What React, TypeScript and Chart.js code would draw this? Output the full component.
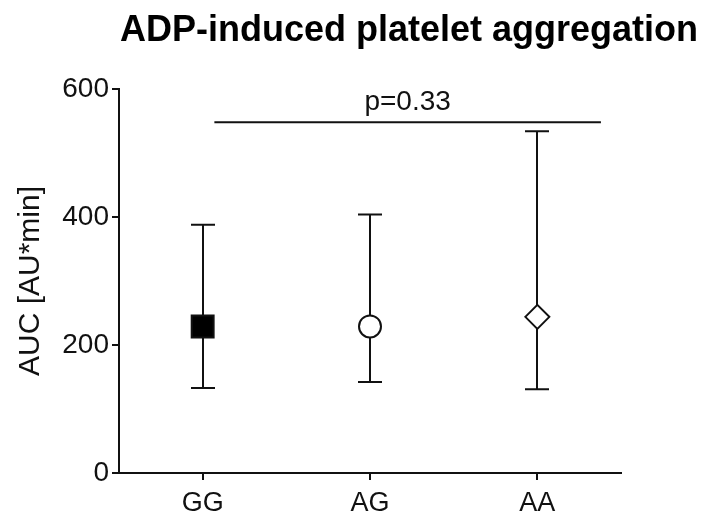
import { useEffect, useRef } from 'react';
import { Chart, registerables } from 'chart.js';

Chart.register(...registerables);

// ---- data ----
const categories = ['GG', 'AG', 'AA'];
const means = [229, 229, 244];
const upperErr = [388, 404, 534];
const lowerErr = [133, 142, 131];
const yTicks = [0, 200, 400, 600];
const pLabel = 'p=0.33';
const pBracketValue = 548; // y value of the comparison line
const pBracketFrom = 0.07; // category index units
const pBracketTo = 2.38;
const chartTitle = 'ADP-induced platelet aggregation';
const yTitle = 'AUC [AU*min]';

const FONT = '"Liberation Sans", Arial, Helvetica, sans-serif';
const INK = '#111111';

const errorBarPlugin = {
  id: 'errorBars',
  beforeDatasetsDraw(chart: any) {
    const { ctx, scales } = chart;
    const xs = scales.x;
    const ys = scales.y;
    ctx.save();
    ctx.strokeStyle = INK;
    ctx.lineWidth = 2;
    const cap = 12;
    for (let i = 0; i < categories.length; i++) {
      const x = Math.round(xs.getPixelForValue(i));
      const yt = ys.getPixelForValue(upperErr[i]);
      const yb = ys.getPixelForValue(lowerErr[i]);
      ctx.beginPath();
      ctx.moveTo(x, yt);
      ctx.lineTo(x, yb);
      ctx.moveTo(x - cap, yt);
      ctx.lineTo(x + cap, yt);
      ctx.moveTo(x - cap, yb);
      ctx.lineTo(x + cap, yb);
      ctx.stroke();
    }
    // comparison bracket
    const py = ys.getPixelForValue(pBracketValue);
    const x1 = xs.getPixelForValue(pBracketFrom);
    const x2 = xs.getPixelForValue(pBracketTo);
    ctx.beginPath();
    ctx.moveTo(x1, py);
    ctx.lineTo(x2, py);
    ctx.stroke();
    ctx.fillStyle = INK;
    ctx.font = `28px ${FONT}`;
    ctx.textAlign = 'center';
    ctx.textBaseline = 'alphabetic';
    ctx.fillText(pLabel, (x1 + x2) / 2, py - 12);
    ctx.restore();
  },
  afterDraw(chart: any) {
    const { ctx } = chart;
    ctx.save();
    ctx.fillStyle = '#000';
    ctx.font = `bold 36px ${FONT}`;
    ctx.textAlign = 'center';
    ctx.textBaseline = 'alphabetic';
    ctx.fillText(chartTitle, 409, 41);
    ctx.restore();
  },
};

export default function App() {
  const ref = useRef<HTMLCanvasElement | null>(null);

  useEffect(() => {
    if (!ref.current) return;
    const chart = new Chart(ref.current, {
      type: 'line',
      data: {
        labels: categories,
        datasets: [
          {
            data: means,
            showLine: false,
            pointStyle: ['rect', 'circle', 'rectRot'],
            pointRadius: [15.5, 11, 12],
            pointHoverRadius: [15.5, 11, 12],
            pointBackgroundColor: ['#000000', '#ffffff', '#ffffff'],
            pointBorderColor: INK,
            pointBorderWidth: 2,
            clip: false,
          } as any,
        ],
      },
      options: {
        responsive: false,
        animation: false,
        events: [],
        layout: { padding: { left: 0, right: 84, top: 89, bottom: 0 } },
        plugins: {
          legend: { display: false },
          tooltip: { enabled: false },
          title: { display: false },
        },
        scales: {
          x: {
            type: 'category',
            offset: true,
            afterFit: (s: any) => {
              s.height = 43;
            },
            grid: {
              display: true,
              offset: false,
              drawOnChartArea: false,
              drawTicks: true,
              tickLength: 7,
              lineWidth: 2,
              color: INK,
            },
            border: { display: true, width: 2, color: INK },
            ticks: {
              color: INK,
              font: { family: FONT, size: 27 },
              padding: 7,
              maxRotation: 0,
            },
          },
          y: {
            min: 0,
            max: 600,
            afterFit: (s: any) => {
              s.width = 119;
            },
            afterBuildTicks: (s: any) => {
              s.ticks = yTicks.map((v) => ({ value: v }));
            },
            grid: {
              display: true,
              drawOnChartArea: false,
              drawTicks: true,
              tickLength: 7,
              lineWidth: 2,
              color: INK,
            },
            border: { display: true, width: 2, color: INK },
            ticks: {
              color: INK,
              font: { family: FONT, size: 28 },
              padding: 3,
            },
            title: {
              display: true,
              text: yTitle,
              color: INK,
              font: { family: FONT, size: 30 },
              padding: { top: 13, bottom: 0 },
            },
          },
        },
      },
      plugins: [errorBarPlugin],
    });
    return () => chart.destroy();
  }, []);

  return (
    <div style={{ position: 'fixed', left: 0, top: 0, width: 705, height: 516, background: '#fff' }}>
      <canvas ref={ref} width={705} height={516} style={{ display: 'block' }} />
    </div>
  );
}
